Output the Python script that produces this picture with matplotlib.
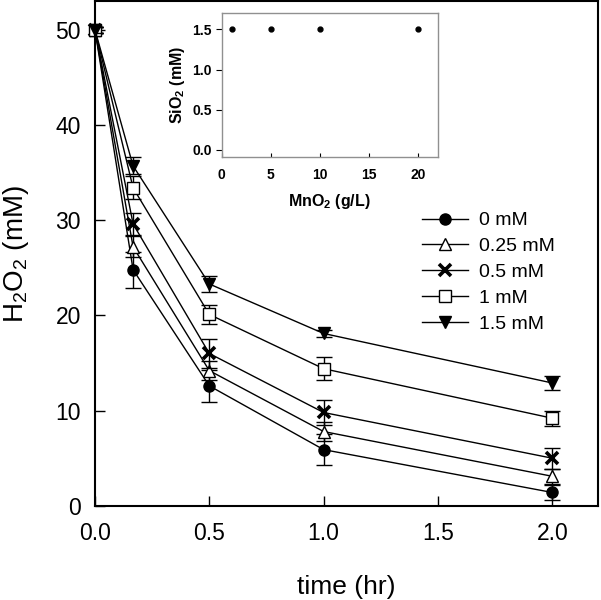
import numpy as np
import matplotlib
matplotlib.use("Agg")
import matplotlib.pyplot as plt

plt.rcParams['font.family'] = ['Liberation Sans', 'DejaVu Sans']

# H2O2 decay with different SiO2 additions
time_hr = [0, 1 / 6, 0.5, 1.0, 2.0]
series_labels = ['0 mM', '0.25 mM', '0.5 mM', '1 mM', '1.5 mM']
h2o2_0 = [50, 24.8, 12.6, 5.9, 1.4]
h2o2_025 = [50, 27.2, 14.2, 7.8, 3.1]
h2o2_05 = [50, 29.6, 16.0, 9.8, 5.0]
h2o2_1 = [50, 33.4, 20.1, 14.4, 9.2]
h2o2_15 = [50, 35.7, 23.3, 18.1, 12.9]
err_0 = [0.3, 1.9, 1.7, 1.6, 0.8]
err_025 = [0.3, 1.1, 1.0, 1.0, 0.8]
err_05 = [0.3, 1.2, 1.5, 1.3, 1.1]
err_1 = [0.3, 1.2, 1.0, 1.2, 0.8]
err_15 = [0.3, 0.9, 0.8, 0.4, 0.7]

# inset: SiO2 vs MnO2 loading
mno2_gl = [1, 5, 10, 20]
sio2_mm = [1.5, 1.5, 1.5, 1.5]

fig = plt.figure(figsize=(6.01, 6.0), dpi=100)
ax = fig.add_axes([0.158, 0.157, 0.837, 0.841])

values = [h2o2_0, h2o2_025, h2o2_05, h2o2_1, h2o2_15]
errors = [err_0, err_025, err_05, err_1, err_15]
markers = ['o', '^', 'x', 's', 'v']
faces = ['black', 'white', 'black', 'white', 'black']

handles = []
for y, e, m, fc, lab in zip(values, errors, markers, faces, series_labels):
    ax.errorbar(time_hr, y, yerr=e, fmt='none', ecolor='black',
                elinewidth=1.0, capsize=5.5, capthick=1.0)
    h, = ax.plot(time_hr, y, color='black', lw=1.0, marker=m,
                 markersize=8, mfc=fc, mec='black',
                 mew=1.0 if m != 'x' else 2.6, clip_on=False, label=lab)
    handles.append(h)

ax.set_xlim(0, 2.2)
ax.set_ylim(0, 53)
ax.set_xticks([0, 0.5, 1.0, 1.5, 2.0])
ax.set_xticklabels(['0.0', '0.5', '1.0', '1.5', '2.0'])
ax.set_yticks([0, 10, 20, 30, 40, 50])
ax.tick_params(direction='in', length=7, width=1.0, labelsize=16.5)
ax.tick_params(axis='x', pad=12)
ax.tick_params(axis='y', pad=10)
for s in ax.spines.values():
    s.set_linewidth(1.5)
ax.set_xlabel('time (hr)', fontsize=19, labelpad=21)
ax.set_ylabel(r'$\mathregular{H_2O_2}$ (mM)', fontsize=20, labelpad=18)

ax.legend(handles, series_labels, loc='upper left', bbox_to_anchor=(0.702, 0.647),
          bbox_transform=fig.transFigure, frameon=False, fontsize=14,
          handlelength=2.37, labelspacing=0.42, handletextpad=0.57,
          borderpad=0, borderaxespad=0)

# inset
ins = fig.add_axes([0.369, 0.738, 0.359, 0.24])
ins.plot(mno2_gl, sio2_mm, 'o', color='black', markersize=3.5)
ins.set_xlim(0, 22)
ins.set_ylim(-0.09, 1.7)
ins.set_xticks([0, 5, 10, 15, 20])
ins.set_yticks([0.0, 0.5, 1.0, 1.5])
ins.set_yticklabels(['0.0', '0.5', '1.0', '1.5'])
ins.tick_params(axis='x', direction='in', length=3, width=0.8, labelsize=10, pad=8)
ins.tick_params(axis='y', direction='out', length=4, width=0.8, labelsize=10, pad=3)
for lab in ins.get_xticklabels() + ins.get_yticklabels():
    lab.set_fontweight('bold')
for s in ins.spines.values():
    s.set_color('#909090')
    s.set_linewidth(1.0)
ins.set_xlabel(r'MnO$\mathregular{_2}$ (g/L)', fontsize=11.5, fontweight='bold', labelpad=7)
ins.set_ylabel(r'SiO$\mathregular{_2}$ (mM)', fontsize=11.5, fontweight='bold', labelpad=4)

fig.savefig('out.png', dpi=100)
